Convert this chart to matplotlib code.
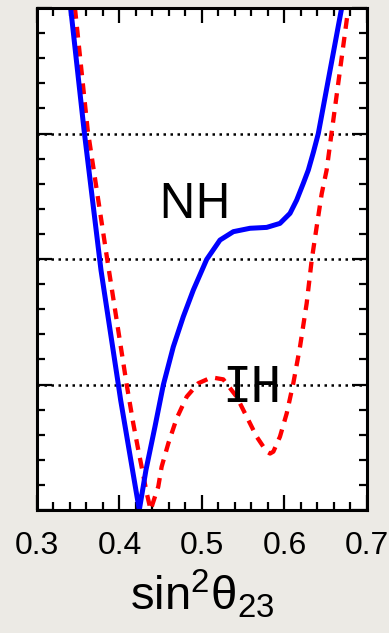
import numpy as np
import matplotlib
matplotlib.use('Agg')
from matplotlib import pyplot as plt
from matplotlib.ticker import MultipleLocator, NullFormatter

plt.rcParams['font.family'] = ['Liberation Sans', 'DejaVu Sans']
plt.rcParams['mathtext.fontset'] = 'custom'
plt.rcParams['mathtext.rm'] = 'Liberation Sans'
plt.rcParams['mathtext.it'] = 'Liberation Sans:italic'

# delta chi^2 vs sin^2(theta_23), normal hierarchy
nh_s23 = [0.3408, 0.357, 0.3776, 0.3986, 0.4014, 0.424, 0.4321, 0.443, 0.4531,
          0.4652, 0.4773, 0.4895, 0.5057, 0.5218, 0.538, 0.5582, 0.5784, 0.5945,
          0.6067, 0.6148, 0.6228, 0.6289, 0.635, 0.641, 0.6693]
nh_chi2 = [4.0, 3.03, 1.91, 1.0, 0.876, 0.0, 0.319, 0.664, 0.996,
           1.30, 1.54, 1.753, 1.997, 2.151, 2.218, 2.245, 2.252, 2.284,
           2.364, 2.47, 2.603, 2.709, 2.85, 3.0, 4.0]

# inverted hierarchy
ih_s23 = [0.346, 0.3614, 0.3853, 0.4087, 0.4119, 0.4167, 0.4228, 0.428, 0.433,
          0.4378, 0.4402, 0.447, 0.4511, 0.4592, 0.4693, 0.4815, 0.4955, 0.5117,
          0.5258, 0.542, 0.5542, 0.5663, 0.5784, 0.5825, 0.5865, 0.5945, 0.6027,
          0.6107, 0.6188, 0.6269, 0.633, 0.639, 0.6451, 0.6511, 0.657, 0.6774]
ih_chi2 = [4.0, 3.03, 1.99, 1.0, 0.876, 0.69, 0.478, 0.305, 0.135,
           0.0, 0.05, 0.186, 0.345, 0.531, 0.73, 0.903, 1.01, 1.057,
           1.041, 0.903, 0.743, 0.584, 0.465, 0.45, 0.465, 0.584, 0.77,
           1.01, 1.30, 1.647, 1.992, 2.257, 2.52, 2.709, 3.0, 4.0]

sigma_levels = [1, 2, 3]

fig = plt.figure(figsize=(3.89, 6.33), dpi=100)
fig.patch.set_facecolor('#ECEAE5')
ax = fig.add_axes([0.0951, 0.1943, 0.8483, 0.7930])
ax.set_facecolor('white')

for lev in sigma_levels:
    ax.axhline(lev, color='black', lw=1.8, linestyle=(0, (1, 1.8)), zorder=1)

ax.plot(nh_s23, nh_chi2, color='#0000FF', lw=3.6, solid_joinstyle='round', zorder=3)
ax.plot(ih_s23, ih_chi2, color='#FF0000', lw=3.1, linestyle=(0, (2.5, 1.9)), zorder=2)

ax.text(0.4915, 2.43, 'NH', fontsize=35, family=['Noto Sans'], ha='center', va='center', zorder=5)
ax.text(0.5606, 0.97, 'IH', fontsize=35, family=['DejaVu Sans Mono'], ha='center', va='center', zorder=5)

ax.set_xlim(0.3, 0.7)
ax.set_ylim(0, 4)
ax.xaxis.set_major_locator(MultipleLocator(0.1))
ax.xaxis.set_minor_locator(MultipleLocator(0.02))
ax.yaxis.set_major_locator(MultipleLocator(1))
ax.yaxis.set_minor_locator(MultipleLocator(0.2))
ax.yaxis.set_major_formatter(NullFormatter())
ax.tick_params(which='both', direction='in', top=True, right=True, width=1.6)
ax.tick_params(which='major', length=11, labelsize=23, pad=15)
ax.tick_params(which='minor', length=5.5)
for sp in ax.spines.values():
    sp.set_linewidth(2.2)
    sp.set_zorder(6)

ax.set_xlabel(r'$\mathrm{sin^2\theta_{23}}$', fontsize=34, labelpad=5)

fig.savefig('out.png', dpi=100, facecolor=fig.get_facecolor())
